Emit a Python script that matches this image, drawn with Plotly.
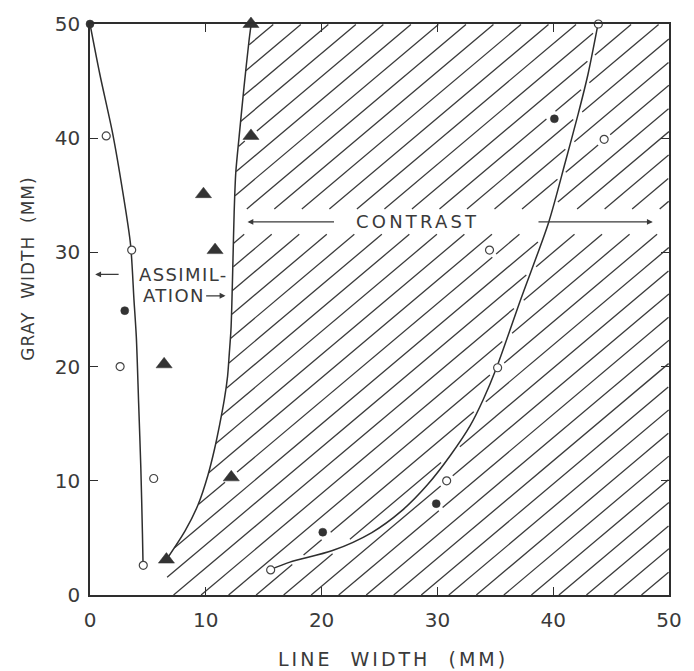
import numpy as np
import plotly.graph_objects as go

# ---------------- data ----------------
# open circles
open_x = [1.4, 3.6, 2.6, 5.5, 4.6, 15.6, 30.8, 34.5, 35.2, 43.9, 44.4]
open_y = [40.2, 30.2, 20.0, 10.2, 2.6, 2.2, 10.0, 30.2, 19.9, 50.0, 39.9]
# filled circles
filled_x = [0.0, 3.0, 20.1, 29.9, 40.1]
filled_y = [50.0, 24.9, 5.5, 8.0, 41.7]
# filled triangles
tri_x = [13.9, 13.9, 9.8, 10.8, 6.4, 12.2, 6.6]
tri_y = [50.0, 40.2, 35.1, 30.2, 20.2, 10.3, 3.1]

# fitted curves
left_curve_x = [0.0, 0.85, 1.98, 2.83, 3.5, 3.8, 4.0, 4.2, 4.39, 4.53, 4.58]
left_curve_y = [50.0, 45.6, 40.3, 35.3, 30.7, 25.8, 22.6, 16.8, 11.1, 5.3, 2.7]
mid_curve_x = [6.65, 8.21, 9.34, 10.19, 10.76, 11.18, 11.6, 11.88, 12.03, 12.17,
               12.25, 12.35, 12.45, 12.59, 12.88, 13.3, 13.73, 13.92]
mid_curve_y = [3.17, 5.61, 7.92, 10.51, 12.81, 14.83, 17.12, 19.15, 21.16, 23.17,
               25.47, 29.5, 33.53, 36.99, 40.16, 44.47, 48.51, 50.0]
right_curve_x = [15.56, 17.26, 20.94, 24.34, 26.88, 29.14, 31.13, 32.83, 33.96,
                 35.09, 37.2, 39.62, 41.03, 42.17, 43.01, 43.86]
right_curve_y = [2.22, 2.88, 3.89, 5.47, 7.34, 9.65, 12.24, 14.83, 17.12,
                 19.86, 25.9, 32.67, 37.85, 42.17, 45.62, 49.94]

tick_vals = [0, 10, 20, 30, 40, 50]

# ---------------- frame geometry ----------------
W, H = 694, 671
ML, MR, MT, MB = 90, 15, 16, 76
PW, PH = W - ML - MR, H - MT - MB
SX, SY = PW / 50.0, PH / 50.0
INK = "#2e2e2e"


def to_px(x, y):
    return ML + np.asarray(x, float) * SX, MT + PH - np.asarray(y, float) * SY


def to_data(px, py):
    return (px - ML) / SX, (MT + PH - py) / SY


# ---------------- hatching of the contrast region ----------------
ang = np.deg2rad(40.0)
cdx, cdy = np.cos(ang), np.sin(ang)
spacing = 28.0
starts = np.arange(175.0 - spacing * 26, ML + PW + 1, spacing)
t = np.arange(0.0, 1000.0, 1.0)

# dense samples of the right curve (for small breaks where hatching meets it)
s = np.linspace(0, len(right_curve_x) - 1, 600)
idx = np.arange(len(right_curve_x))
rcx, rcy = to_px(np.interp(s, idx, right_curve_x), np.interp(s, idx, right_curve_y))

mk_px, mk_py = to_px(open_x + filled_x + tri_x, open_y + filled_y + tri_y)

hatch_x, hatch_y = [], []
for c in starts:
    px = c + t * cdx
    py = (MT + PH) - t * cdy
    xd, yd = to_data(px, py)
    keep = (xd >= 0) & (xd <= 50) & (yd >= 0) & (yd <= 50)
    keep &= xd > np.interp(yd, mid_curve_y, mid_curve_x)
    keep &= ~((yd > 31.6) & (yd < 33.8))
    d_mk = np.min(np.hypot(px[:, None] - mk_px[None, :], py[:, None] - mk_py[None, :]), axis=1)
    keep &= d_mk > 7.5
    d_rc = np.min(np.hypot(px[:, None] - rcx[None, :], py[:, None] - rcy[None, :]), axis=1)
    keep &= d_rc > 3.0
    if not keep.any():
        continue
    k = keep.astype(int)
    edges = np.diff(np.concatenate([[0], k, [0]]))
    run_start = np.where(edges == 1)[0]
    run_end = np.where(edges == -1)[0] - 1
    for a, b in zip(run_start, run_end):
        if b - a < 2:
            continue
        hatch_x += [xd[a], xd[b], None]
        hatch_y += [yd[a], yd[b], None]

fig = go.Figure()

fig.add_trace(go.Scatter(x=hatch_x, y=hatch_y, mode="lines",
                         line=dict(color="#3c3c3c", width=1.3),
                         hoverinfo="skip", showlegend=False))

for cx, cy in [(left_curve_x, left_curve_y), (mid_curve_x, mid_curve_y),
               (right_curve_x, right_curve_y)]:
    fig.add_trace(go.Scatter(x=cx, y=cy, mode="lines",
                             line=dict(color=INK, width=1.5, shape="spline", smoothing=0.8),
                             hoverinfo="skip", showlegend=False))

fig.add_trace(go.Scatter(x=open_x, y=open_y, mode="markers", name="open",
                         marker=dict(symbol="circle", size=8, color="white",
                                     line=dict(color="#444444", width=1.2)),
                         cliponaxis=False, showlegend=False))
fig.add_trace(go.Scatter(x=filled_x, y=filled_y, mode="markers", name="filled",
                         marker=dict(symbol="circle", size=8, color="#333333",
                                     line=dict(color="#333333", width=0.5)),
                         cliponaxis=False, showlegend=False))
fig.add_trace(go.Scatter(x=tri_x, y=tri_y, mode="markers", name="triangles",
                         marker=dict(symbol="triangle-up", size=14, color="#333333",
                                     line=dict(color="#333333", width=0.5)),
                         cliponaxis=False, showlegend=False))

FONT = "DejaVu Sans"


def spaced(text, ls):
    return '<span style="letter-spacing:%spx">%s</span>' % (ls, text)


ann = []
# region labels
ann.append(dict(x=28.3, y=32.67, text=spaced("CONTRAST", 3.2), showarrow=False,
                font=dict(family=FONT, size=18, color="#3a3a3a"),
                xanchor="center", yanchor="middle"))
ann.append(dict(x=4.1, y=28.07, text=spaced("ASSIMIL-", 1.4), showarrow=False,
                font=dict(family=FONT, size=18, color="#3a3a3a"),
                xanchor="left", yanchor="middle"))
ann.append(dict(x=4.4, y=26.2, text=spaced("ATION", 1.4), showarrow=False,
                font=dict(family=FONT, size=18, color="#3a3a3a"),
                xanchor="left", yanchor="middle"))

# arrows (head at x,y; tail at ax,ay)
for hx_, tx_, yy in [(13.6, 21.2, 32.67), (48.6, 38.6, 32.67),
                     (0.45, 2.6, 28.07), (11.7, 9.9, 26.2)]:
    ann.append(dict(x=hx_, y=yy, ax=tx_, ay=yy, xref="x", yref="y",
                    axref="x", ayref="y", text="", showarrow=True,
                    arrowhead=2, arrowsize=0.9, arrowwidth=1.3,
                    arrowcolor="#3a3a3a", standoff=0, startstandoff=0))

# axis titles
ann.append(dict(x=(398 - ML) / PW, y=(MT + PH - 660) / PH, xref="paper", yref="paper",
                text=spaced("LINE  WIDTH  (MM)", 3.0), showarrow=False,
                font=dict(family=FONT, size=19, color="#3a3a3a"),
                xanchor="center", yanchor="middle"))
ann.append(dict(x=(27 - ML) / PW, y=(MT + PH - 264) / PH, xref="paper", yref="paper",
                text=spaced("GRAY  WIDTH  (MM)", 1.0), showarrow=False, textangle=-90,
                font=dict(family=FONT, size=17, color="#3a3a3a"),
                xanchor="center", yanchor="middle"))

axis_common = dict(range=[0, 50], tickvals=tick_vals, ticks="inside", ticklen=8,
                   tickwidth=1.3, tickcolor=INK, showline=True, linecolor=INK,
                   linewidth=1.6, mirror="allticks", showgrid=False, zeroline=False,
                   tickfont=dict(family=FONT, size=20, color="#3a3a3a"))

fig.update_layout(
    width=W, height=H, autosize=False,
    margin=dict(l=ML, r=MR, t=MT, b=MB, pad=0),
    paper_bgcolor="white", plot_bgcolor="white",
    xaxis=dict(**axis_common, ticklabelstandoff=6),
    yaxis=dict(**axis_common, ticklabelstandoff=4),
    annotations=ann,
)

fig.write_html("out.html")
